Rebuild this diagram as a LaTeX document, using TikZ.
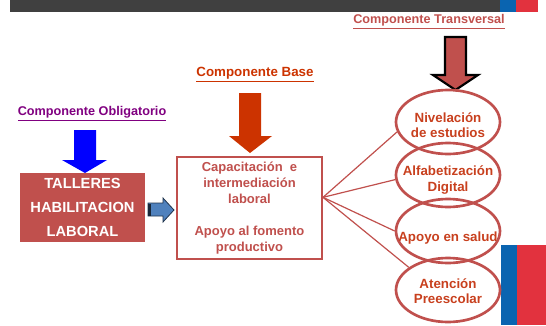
\documentclass[tikz,border=0pt]{standalone}
\usepackage{fontspec}
\setmainfont{Liberation Sans}
\usetikzlibrary{shapes.geometric}
\definecolor{bargray}{HTML}{404040}
\definecolor{flagblue}{HTML}{0A64B0}
\definecolor{flagred}{HTML}{E2323E}
\definecolor{brick}{HTML}{C0504D}
\definecolor{rust}{HTML}{CC3300}
\definecolor{ovaltxt}{HTML}{C8401E}
\definecolor{oblig}{HTML}{800080}
\definecolor{steel}{HTML}{4F81BD}
\tikzset{
  heading/.style={font=\bfseries\fontsize{9.5}{11}\selectfont},
  oval/.style={ellipse, draw=brick, line width=2pt, minimum width=78pt, minimum height=48pt, inner sep=0pt},
  ovaltext/.style={text=ovaltxt, font=\bfseries\fontsize{10}{11.5}\selectfont, align=center},
  fan/.style={draw=brick, line width=0.9pt},
}
\begin{document}
\begin{tikzpicture}[x=0.75pt,y=-0.75pt]
  \useasboundingbox (0,0) rectangle (546,325);
  % header bar and flags
  \fill[bargray] (10,0) rectangle (500,12);
  \fill[flagblue] (500,0) rectangle (516,12);
  \fill[flagred] (516,0) rectangle (538,12);
  \fill[flagblue] (501,245) rectangle (517,325);
  \fill[flagred] (517,245) rectangle (546,325);
  % --- left: mandatory component ---
  \node[heading, text=oblig] (oblig) at (92,114) {\underline{Componente Obligatorio}};
  \fill[blue] (74,130) -- (96,130) -- (96,160) -- (107,160) -- (85,173) -- (62,160) -- (74,160) -- cycle;
  \node[fill=brick, text=white, minimum width=93.75pt, minimum height=51.75pt, align=center,
        font=\bfseries\fontsize{11}{18}\selectfont] (talleres) at (82.5,207.5) {TALLERES\\HABILITACION\\LABORAL};
  % small block arrow
  \filldraw[fill=steel, draw=steel!40!black, line width=0.6pt, line join=miter]
     (148,203) -- (163,203) -- (163,198) -- (174,210) -- (163,222) -- (163,216) -- (148,216) -- cycle;
  \fill[steel!30!black] (148,203.5) rectangle (151,215.5);
  % --- middle: base component ---
  \node[heading, text=rust, font=\bfseries\fontsize{10}{12}\selectfont] (base) at (255,75) {\underline{Componente Base}};
  \fill[rust] (239,93) -- (261,93) -- (261,136) -- (272,136) -- (250,153) -- (229,136) -- (239,136) -- cycle;
  \node[draw=brick, line width=1.5pt, fill=white, text=brick, minimum width=108.75pt, minimum height=76.5pt,
        align=center, font=\bfseries\fontsize{9.75}{12}\selectfont] (mid) at (249.5,208)
        {Capacitación \ e\\intermediación\\laboral\\[12pt]Apoyo al fomento\\productivo};
  % --- right: transversal component ---
  \node[heading, text=brick] (transv) at (429,22) {\underline{Componente Transversal}};
  \filldraw[fill=brick, draw=black, line width=1.6pt, line join=miter]
     (445,37) -- (466,37) -- (466,75) -- (478,75) -- (455.5,90) -- (433,75) -- (445,75) -- cycle;
  \node[oval] (niv) at (448,122) {};
  \node[oval] (alf) at (448,175) {};
  \node[oval] (salud) at (448,231) {};
  \node[oval] (pre) at (448,290) {};
  \node[ovaltext] (nivtxt) at (448,125) {Nivelación\\de estudios};
  \node[ovaltext] (alftxt) at (448,180) {Alfabetización\\Digital};
  \node[ovaltext] (saludtxt) at (448,238) {Apoyo en salud};
  \node[ovaltext] (pretxt) at (448,291) {Atención\\Preescolar};
  % fan of connectors
  \coordinate (hub) at ([yshift=8pt]mid.east);
  \draw[fan] (hub) -- (niv.191);
  \draw[fan] (hub) -- (alf.185);
  \draw[fan] (hub) -- (salud.180);
  \draw[fan] (hub) -- (pre.150);
\end{tikzpicture}
\end{document}
